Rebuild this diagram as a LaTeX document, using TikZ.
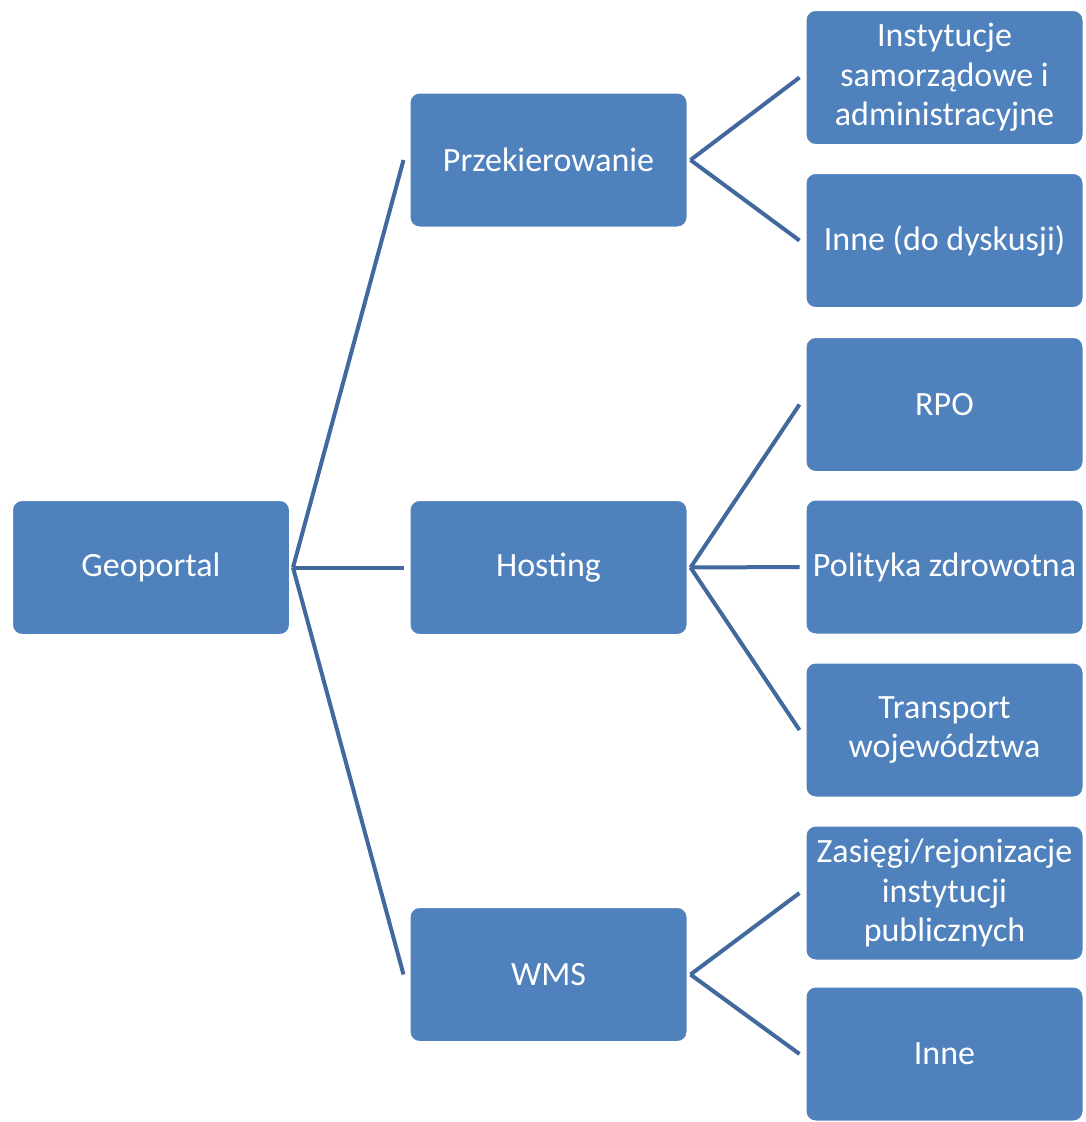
\documentclass[tikz,border=0pt]{standalone}
\usepackage{fontspec}
\setmainfont{Carlito}
\definecolor{boxblue}{HTML}{4F81BD}
\definecolor{lineblue}{HTML}{41699E}
\begin{document}
\begin{tikzpicture}[x=1pt,y=-1pt,
  box/.style={draw=white, line width=2pt, fill=boxblue, rounded corners=10pt,
    minimum width=278pt, minimum height=135pt, text=white, align=center,
    inner sep=0pt, font=\fontsize{34}{39.5}\selectfont},
  conn/.style={draw=lineblue, line width=4pt}]
\useasboundingbox (0,0) rectangle (1086,1122);
\node[box] (geo) at (151,567.5) {Geoportal};
\node[box] (prz) at (548.5,160) {Przekierowanie};
\node[box] (hos) at (548.5,567.5) {Hosting};
\node[box] (wms) at (548.5,974.5) {WMS};
\node[box] (ins) at (944.5,77.5) {Instytucje\\samorządowe i\\administracyjne};
\node[box] (ind) at (944.5,240.5) {Inne (do dyskusji)};
\node[box] (rpo) at (944.5,404.5) {RPO};
\node[box] (pol) at (944.5,567) {Polityka zdrowotna};
\node[box] (tra) at (944.5,730) {Transport\\województwa};
\node[box] (zas) at (944.5,893) {Zasięgi/rejonizacje\\instytucji\\publicznych};
\node[box] (inn) at (944.5,1054) {Inne};
\foreach \a/\b in {geo/prz,geo/hos,geo/wms,prz/ins,prz/ind,hos/rpo,hos/pol,hos/tra,wms/zas,wms/inn}
  \draw[conn] ([xshift=2pt]\a.east) -- ([xshift=-5pt]\b.west);
\end{tikzpicture}
\end{document}
